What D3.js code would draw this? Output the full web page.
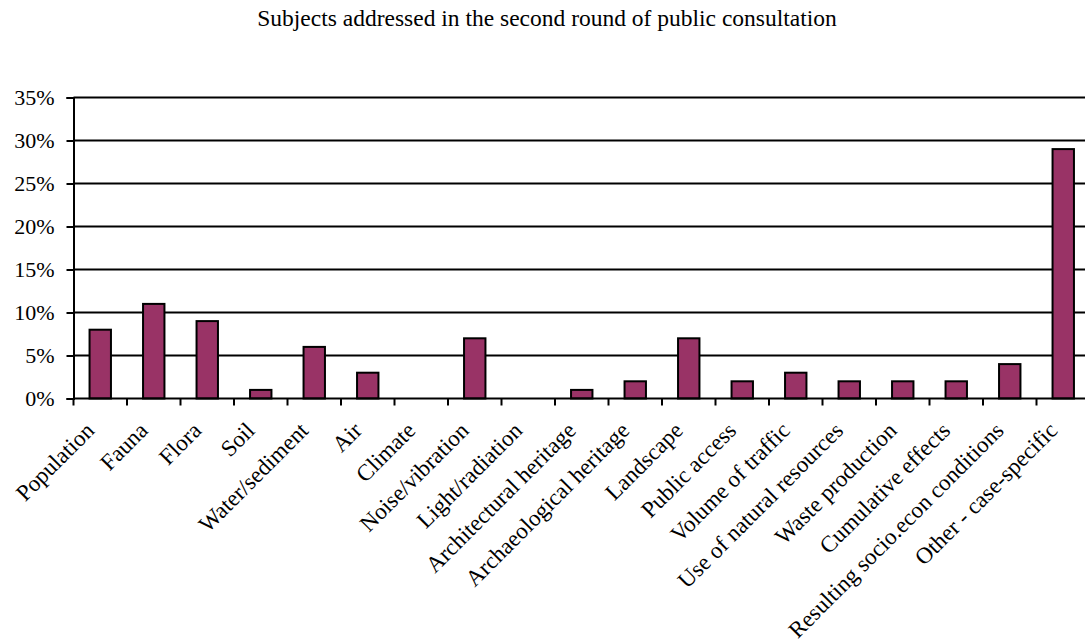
<!DOCTYPE html>
<html><head><meta charset="utf-8">
<script src="https://cdn.jsdelivr.net/npm/d3@7"></script>
<style>body{margin:0;background:#fff;}svg{display:block;}</style>
</head><body>
<svg id="chart" width="1085" height="644"></svg>
<script>
const categories = ["Population","Fauna","Flora","Soil","Water/sediment","Air","Climate","Noise/vibration","Light/radiation","Architectural heritage","Archaeological heritage","Landscape","Public access","Volume of traffic","Use of natural resources","Waste production","Cumulative effects","Resulting socio.econ conditions","Other - case-specific"];
const values = [0.08,0.11,0.09,0.01,0.06,0.03,0,0.07,0,0.01,0.02,0.07,0.02,0.03,0.02,0.02,0.02,0.04,0.29];
const yTicks = [0,0.05,0.10,0.15,0.20,0.25,0.30,0.35];
const title = "Subjects addressed in the second round of public consultation";

const svg = d3.select("#chart");
const L = 73.5, R = 1090, T = 97.5, B = 398.5;
const font = "'Liberation Serif','Times New Roman',serif";

const x = d3.scaleBand().domain(categories).range([L, R]).paddingInner(0.6).paddingOuter(0.3);
const y = d3.scaleLinear().domain([0, 0.35]).range([B, T]);

svg.append("text").attr("x", 547).attr("y", 26).attr("text-anchor","middle")
  .attr("font-family", font).attr("font-size", 23.5).text(title);

// gridlines
svg.append("g").selectAll("line").data(yTicks.slice(1)).join("line")
  .attr("x1", L).attr("x2", R).attr("y1", d=>y(d)).attr("y2", d=>y(d))
  .attr("stroke","#000").attr("stroke-width",2);

// y axis
const yAxis = svg.append("g").attr("transform",`translate(${L},0)`)
  .call(d3.axisLeft(y).tickValues(yTicks).tickFormat(d3.format(".0%")).tickSize(7).tickPadding(12));
yAxis.select(".domain").attr("stroke-width",2);
yAxis.selectAll(".tick line").attr("stroke-width",2);
yAxis.selectAll("text").attr("font-family",font).attr("font-size",22).attr("fill","#000");

// bars
svg.append("g").selectAll("rect").data(categories).join("rect")
  .attr("x", d=>x(d)).attr("width", x.bandwidth())
  .attr("y", (d,i)=>y(values[i])).attr("height",(d,i)=>B - y(values[i]))
  .attr("fill","#993366").attr("stroke","#000").attr("stroke-width",2);

// x axis
const bounds = d3.range(categories.length+1).map(i => L + i*(R-L)/categories.length);
svg.append("line").attr("x1",L).attr("x2",R).attr("y1",B).attr("y2",B).attr("stroke","#000").attr("stroke-width",2);
svg.append("g").selectAll("line").data(bounds).join("line")
  .attr("x1",d=>d).attr("x2",d=>d).attr("y1",B).attr("y2",B+7).attr("stroke","#000").attr("stroke-width",2);

svg.append("g").selectAll("text").data(categories).join("text")
  .attr("transform", d => `translate(${x(d)+x.bandwidth()/2-16},${B+22}) rotate(-45)`)
  .attr("text-anchor","end").attr("dy","0.7em")
  .attr("font-family",font).attr("font-size",23).text(d=>d);
</script>
</body></html>
